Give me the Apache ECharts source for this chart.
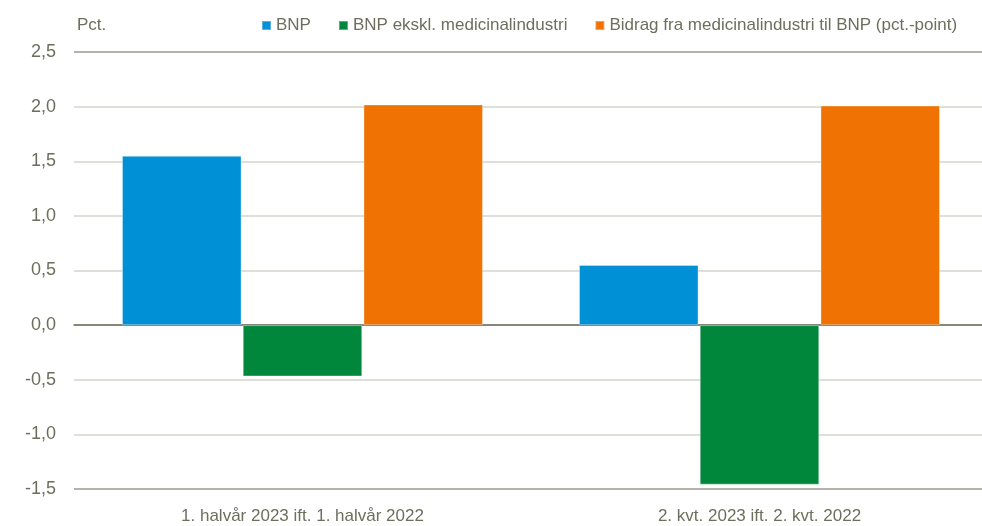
<!DOCTYPE html>
<html>
<head>
<meta charset="utf-8">
<script src="https://cdn.jsdelivr.net/npm/echarts@6/dist/echarts.min.js"></script>
<style>
  html, body { margin: 0; padding: 0; background: #fff; }
  #chart { width: 982px; height: 526px; }
</style>
</head>
<body>
<div id="chart"></div>
<script>
const categories = ["1. halvår 2023 ift. 1. halvår 2022", "2. kvt. 2023 ift. 2. kvt. 2022"];
const seriesNames = ["BNP", "BNP ekskl. medicinalindustri", "Bidrag fra medicinalindustri til BNP (pct.-point)"];
const bnp = [1.55, 0.55];
const bnpEksMedicin = [-0.47, -1.46];
const bidragMedicin = [2.02, 2.01];
const colors = ["#0090d6", "#00873b", "#ef7203"];

const font = "'Liberation Sans Narrow', 'Arial Narrow', 'Liberation Sans', Arial, sans-serif";
const textColor = "#6e6e5e";

const chart = echarts.init(document.getElementById("chart"));

const makeBar = (name, data, color) => ({
  name,
  type: "bar",
  data,
  barGap: "1%",
  barCategoryGap: "21%",
  itemStyle: { color, borderColor: "rgba(255,255,255,0.35)", borderWidth: 1 },
});

chart.setOption({
  animation: false,
  color: colors,
  textStyle: { fontFamily: font },
  grid: { left: 74, width: 914, top: 52, bottom: 37, outerBoundsMode: "none", containLabel: false },
  legend: {
    top: 12,
    left: 256,
    itemWidth: 9,
    itemHeight: 9,
    itemGap: 27,
    icon: "rect",
    textStyle: { color: textColor, fontSize: 17, fontFamily: font },
    data: seriesNames,
  },
  title: {
    text: "Pct.",
    left: 72,
    top: 12,
    textStyle: { color: textColor, fontSize: 17, fontWeight: "normal", fontFamily: font },
  },
  xAxis: {
    type: "category",
    data: categories,
    axisLine: { onZero: true, lineStyle: { color: "#7f7f70", width: 1.5 } },
    axisTick: { show: false },
    axisLabel: { color: textColor, fontSize: 17, fontFamily: font, margin: 19 },
  },
  yAxis: {
    type: "value",
    min: -1.5,
    max: 2.5,
    interval: 0.5,
    axisLine: { show: false },
    axisTick: { show: false },
    axisLabel: {
      color: textColor,
      fontSize: 18,
      fontFamily: font,
      margin: 18,
      formatter: (v) => v.toFixed(1).replace(".", ","),
    },
    splitLine: {
      lineStyle: {
        color: ["#9a9a8c", "#d4d4cc", "#d4d4cc", "#7f7f70", "#d4d4cc", "#d4d4cc", "#d4d4cc", "#d4d4cc", "#9a9a8c"],
        width: 1.5,
      },
    },
  },
  series: [
    makeBar(seriesNames[0], bnp, colors[0]),
    makeBar(seriesNames[1], bnpEksMedicin, colors[1]),
    makeBar(seriesNames[2], bidragMedicin, colors[2]),
  ],
});
</script>
</body>
</html>
